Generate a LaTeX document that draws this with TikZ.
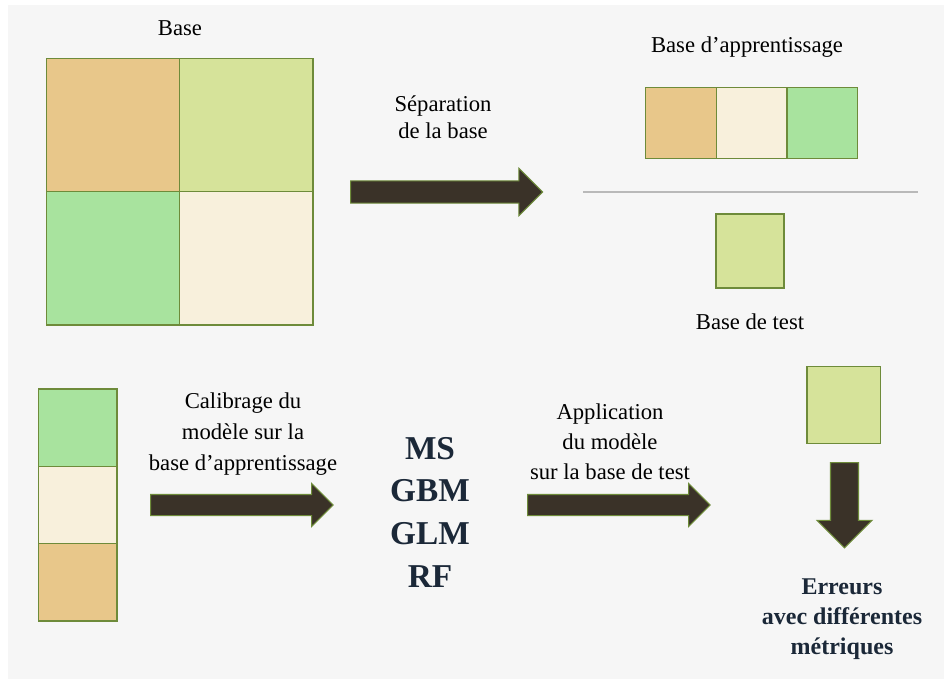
\documentclass[tikz,border=0pt]{standalone}
\usepackage{fontspec}
\setmainfont{Liberation Serif}
\usetikzlibrary{positioning,shapes.arrows}

\definecolor{cellTan}{HTML}{E8C78A}
\definecolor{cellLime}{HTML}{D6E39A}
\definecolor{cellGreen}{HTML}{A8E39E}
\definecolor{cellCream}{HTML}{F8F0DC}
\definecolor{edgeOlive}{HTML}{6E8B3A}
\definecolor{arrowBrown}{HTML}{3A3228}
\definecolor{inkNavy}{HTML}{1B2838}
\definecolor{paper}{HTML}{F6F6F6}

\begin{document}
\begin{tikzpicture}[x=0.75pt,y=-0.75pt,
		cell/.style={draw=edgeOlive,line width=1pt,inner sep=0pt,outer sep=0pt},
		big cell/.style={cell,minimum size=100pt},
		app cell/.style={cell,minimum width=53pt,minimum height=53pt},
		stack cell/.style={cell,minimum width=59pt,minimum height=58pt},
		block arrow/.style={single arrow,draw=edgeOlive,fill=arrowBrown,line width=0.8pt,
			inner xsep=0pt,single arrow tip angle=90,anchor=tail},
		wide arrow/.style={block arrow,minimum height=137pt,inner ysep=7.5pt,minimum width=31.5pt,single arrow head extend=8.25pt},
		txt/.style={align=center,inner sep=0pt,font=\fontsize{17}{20}\selectfont},
		strong/.style={align=center,inner sep=0pt,text=inkNavy}]
		\useasboundingbox (0,0) rectangle (944,679);
		\fill[white] (0,0) rectangle (944,679);
		\fill[paper] (8,5) rectangle (944,679);
		% base complete
		\node[txt] (lbase) at (180,28) {Base};
		\node[big cell,fill=cellTan] (base1) at (113,125) {};
		\node[big cell,fill=cellLime] (base2) [right=0pt of base1] {};
		\node[big cell,fill=cellGreen] (base3) [below=0pt of base1] {};
		\node[big cell,fill=cellCream] (base4) [right=0pt of base3] {};
		% separation
		\node[txt,font=\fontsize{17}{20}\selectfont] (lsep) at (443,117) {Séparation\\de la base};
		\node[block arrow,minimum height=144pt,inner ysep=7.9pt,minimum width=34.5pt,single arrow head extend=9.4pt] (arr1) at (350,192) {};
		% base d'apprentissage
		\node[txt] (lapp) at (747,47) {Base d’apprentissage};
		\node[app cell,fill=cellCream] (app2) at (751.5,123) {};
		\node[app cell,fill=cellTan] (app1) [left=0pt of app2] {};
		\node[app cell,fill=cellGreen] (app3) [right=0pt of app2] {};
		\coordinate (sepL) at (583,192);
		\coordinate (sepR) at (918,192);
		\draw[gray!55,line width=1.1pt] (sepL) -- (sepR);
		% base de test
		\node[cell,fill=cellLime,minimum width=51pt,minimum height=55.5pt] (test) at (750,251) {};
		\node[txt] (ltest) at (750,322) {Base de test};
		% calibrage
		\node[stack cell,fill=cellCream] (stack2) at (77.5,505) {};
		\node[stack cell,fill=cellGreen] (stack1) [above=0pt of stack2] {};
		\node[stack cell,fill=cellTan] (stack3) [below=0pt of stack2] {};
		\node[txt,font=\fontsize{17}{23}\selectfont] (lcal) at (243,434) {Calibrage du\\modèle sur la\\base d’apprentissage};
		\node[wide arrow] (arr2) at (150,505) {};
		% modeles
		\node[strong,font=\bfseries\fontsize{25}{32}\selectfont] (lmodels) at (430,512) {MS\\GBM\\GLM\\RF};
		% application
		\node[txt,font=\fontsize{17}{22.5}\selectfont] (lappl) at (610,442) {Application\\du modèle\\sur la base de test};
		\node[wide arrow] (arr3) at (527,505) {};
		% erreurs
		\node[cell,fill=cellLime,minimum width=55pt,minimum height=58pt] (test2) at (843.5,405) {};
		\node[block arrow,rotate=-90,minimum height=64pt,inner ysep=10.1pt,minimum width=40.5pt,single arrow head extend=10.1pt] (arr4) at (844.5,462) {};
		\node[strong,font=\bfseries\fontsize{18}{22.5}\selectfont] (lerr) at (842,619) {Erreurs\\avec différentes\\métriques};
\end{tikzpicture}
\end{document}
